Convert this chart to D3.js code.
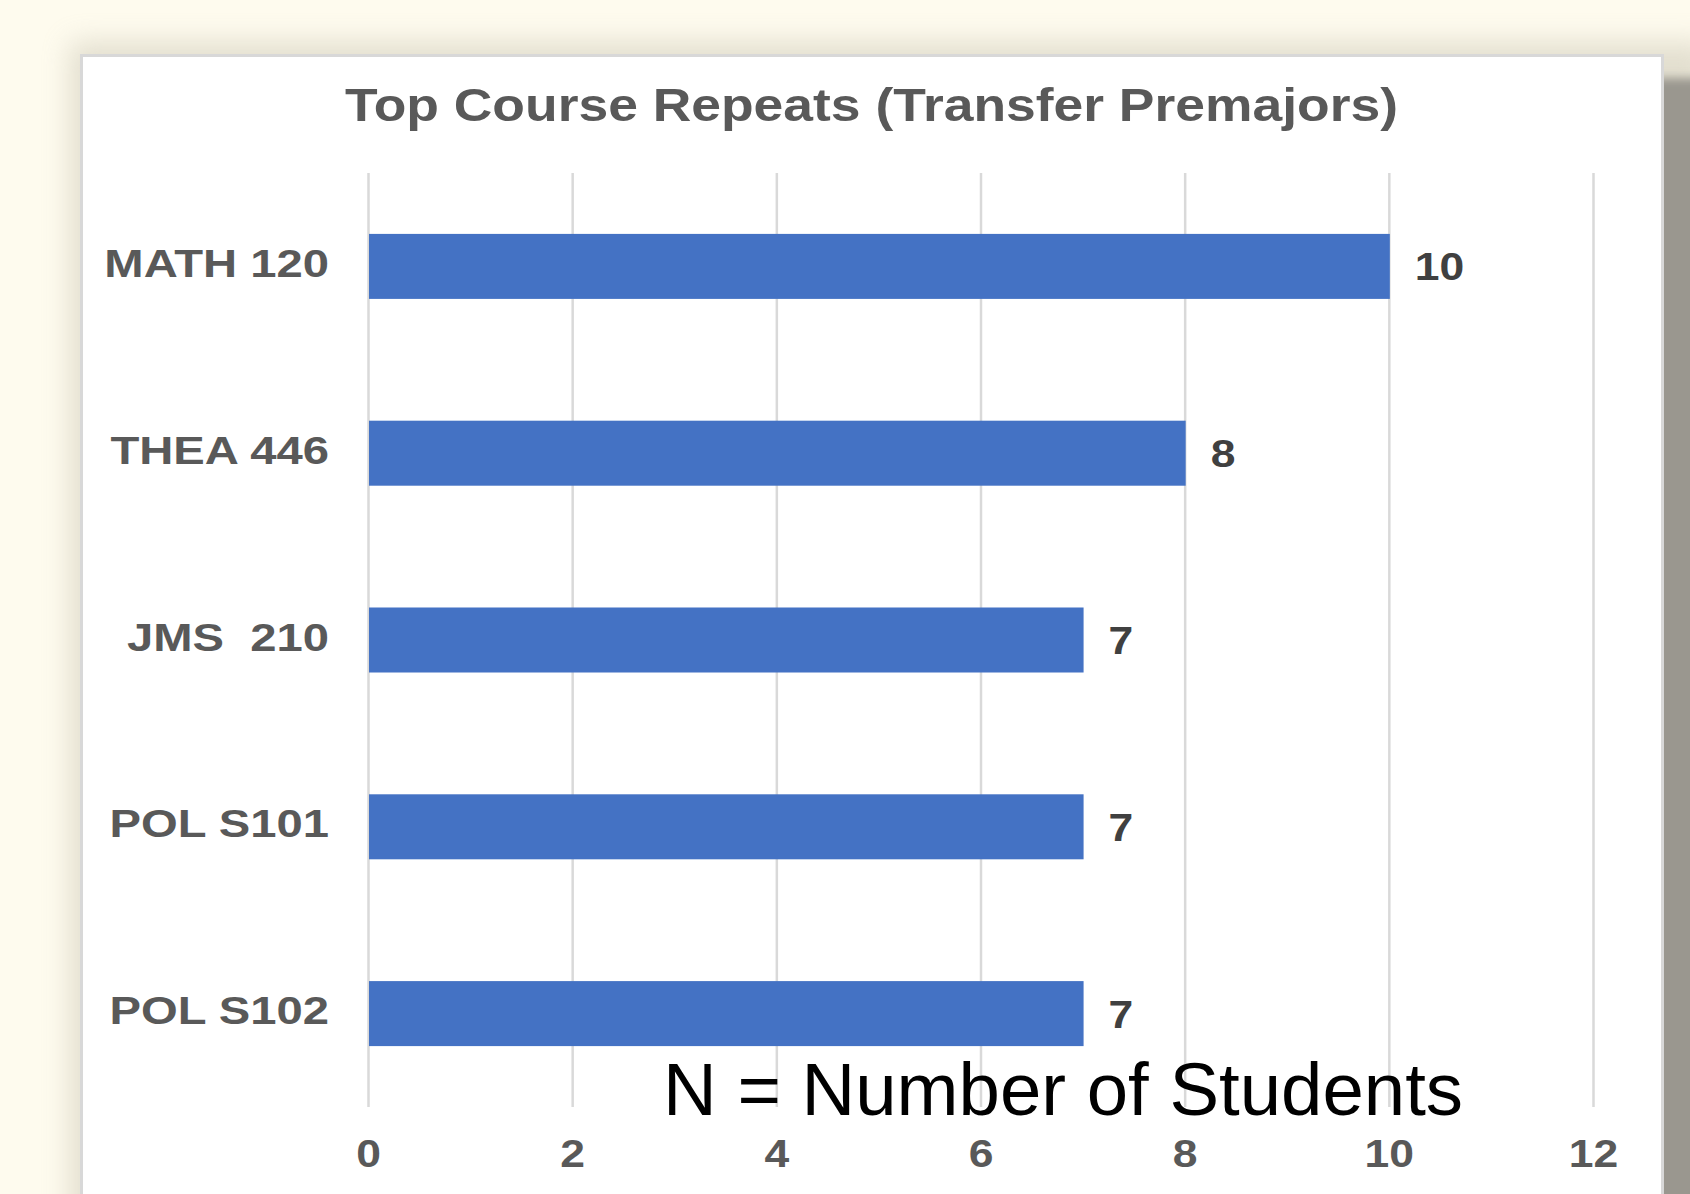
<!DOCTYPE html>
<html>
<head>
<meta charset="utf-8">
<script src="https://cdn.jsdelivr.net/npm/d3@7"></script>
<style>
  html, body { margin: 0; padding: 0; background: #fefbee; overflow: hidden; }
  svg { display: block; }
</style>
</head>
<body>
<div id="chart"></div>
<script>
// ---- data ----
const categories = ["MATH 120", "THEA 446", "JMS  210", "POL S101", "POL S102"];
const values = [10, 8, 7, 7, 7];
const tickValues = [0, 2, 4, 6, 8, 10, 12];
const titleText = "Top Course Repeats (Transfer Premajors)";
const noteText = "N = Number of Students";

const W = 1690, H = 1194;
const svg = d3.select("#chart").append("svg")
  .attr("width", W).attr("height", H)
  .style("font-family", "'Liberation Sans', Arial, sans-serif");

const defs = svg.append("defs");
defs.append("filter").attr("id", "softShadow")
  .attr("x", "-10%").attr("y", "-10%").attr("width", "120%").attr("height", "120%")
  .append("feGaussianBlur").attr("stdDeviation", 14);
defs.append("filter").attr("id", "hardShadow")
  .attr("x", "-50%").attr("y", "-10%").attr("width", "200%").attr("height", "120%")
  .append("feGaussianBlur").attr("stdDeviation", 5);

// background
svg.append("rect").attr("width", W).attr("height", H).attr("fill", "#fefbee");

// shadows
svg.append("rect").attr("x", 70).attr("y", 42).attr("width", 1640).attr("height", 1250)
  .attr("fill", "#b9b4a0").attr("opacity", 0.4).attr("filter", "url(#softShadow)");
svg.append("rect").attr("x", 1652).attr("y", 78).attr("width", 60).attr("height", 1250)
  .attr("fill", "#9a978f").attr("filter", "url(#hardShadow)");

// card
svg.append("rect").attr("x", 81.5).attr("y", 55.5).attr("width", 1581).attr("height", 1200)
  .attr("fill", "#ffffff").attr("stroke", "#d8d8d8").attr("stroke-width", 3);

// scales
const x = d3.scaleLinear().domain([0, 12]).range([368, 1593]);
const y = d3.scaleBand().domain(categories).range([173, 1107])
  .paddingInner(0.652).paddingOuter(0.326);

function stretch(sel, k) {
  sel.each(function() {
    const len = this.getComputedTextLength();
    d3.select(this).attr("textLength", len * k).attr("lengthAdjust", "spacingAndGlyphs");
  });
}

// gridlines + x tick labels
const xAxis = svg.append("g").attr("transform", "translate(0,1107)")
  .call(d3.axisBottom(x).tickValues(tickValues).tickSize(-(1107 - 173)).tickFormat(d3.format("d")));
xAxis.select(".domain").remove();
xAxis.selectAll(".tick line").attr("stroke", "#d9d9d9").attr("stroke-width", 2.5);
xAxis.selectAll(".tick text")
  .attr("y", 60).attr("dy", 0)
  .attr("fill", "#595959").attr("font-size", 39).attr("font-weight", "bold")
  .attr("font-family", "'Liberation Sans', Arial, sans-serif")
  .call(stretch, 1.14);

// bars
svg.append("g").selectAll("rect").data(values).join("rect")
  .attr("x", x(0) + 1)
  .attr("y", (d, i) => y(categories[i]))
  .attr("width", d => x(d) - x(0))
  .attr("height", y.bandwidth())
  .attr("fill", "#4472c4");

// category labels
const yAxis = svg.append("g").attr("transform", "translate(368,0)")
  .call(d3.axisLeft(y).tickSize(0).tickPadding(39));
yAxis.select(".domain").remove();
yAxis.selectAll(".tick text")
  .attr("dy", "0.27em")
  .attr("fill", "#595959").attr("font-size", 39).attr("font-weight", "bold")
  .attr("font-family", "'Liberation Sans', Arial, sans-serif")
  .style("white-space", "pre")
  .call(stretch, 1.21);

// value labels
svg.append("g").selectAll("text").data(values).join("text")
  .attr("x", d => x(d) + 26)
  .attr("y", (d, i) => y(categories[i]) + y.bandwidth() / 2)
  .attr("dy", "0.36em")
  .attr("fill", "#404040").attr("font-size", 39).attr("font-weight", "bold")
  .text(d => d)
  .call(stretch, 1.14);

// title
svg.append("text").attr("x", 345).attr("y", 121)
  .attr("fill", "#595959").attr("font-size", 46).attr("font-weight", "bold")
  .attr("textLength", 1053).attr("lengthAdjust", "spacingAndGlyphs")
  .text(titleText);

// note
svg.append("text").attr("x", 663).attr("y", 1115)
  .attr("fill", "#000000").attr("font-size", 74)
  .attr("textLength", 800).attr("lengthAdjust", "spacingAndGlyphs")
  .text(noteText);
</script>
</body>
</html>
